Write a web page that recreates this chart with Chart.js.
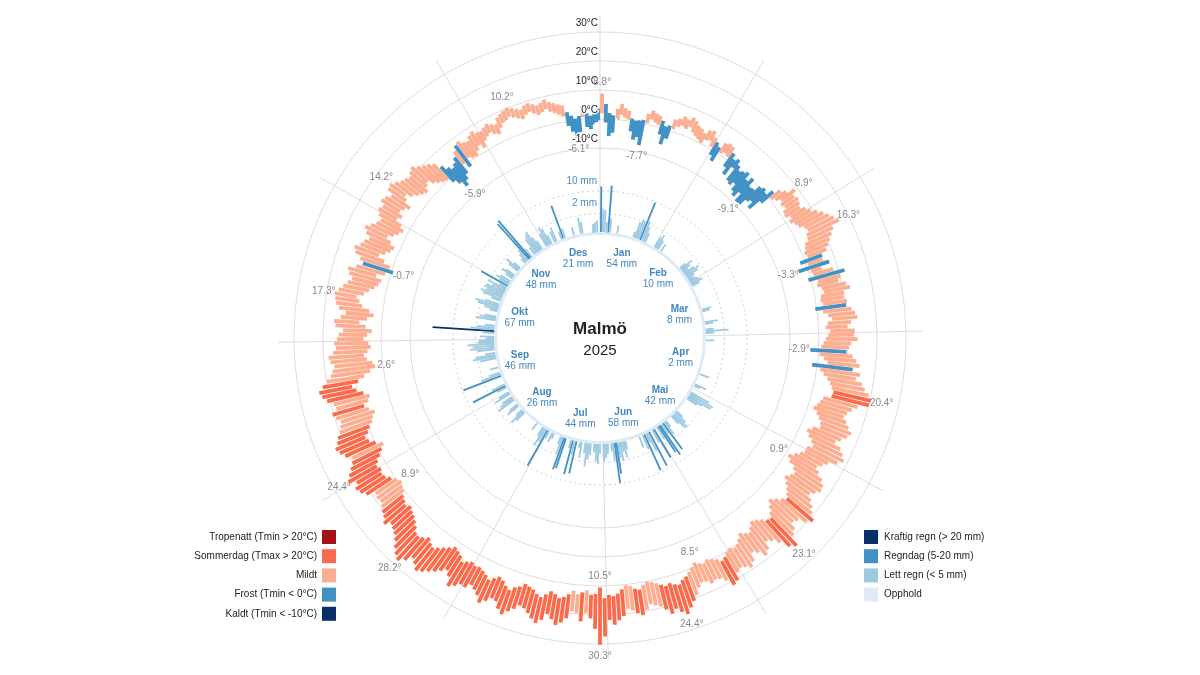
<!DOCTYPE html>
<html>
<head>
<meta charset="utf-8">
<script src="https://cdn.jsdelivr.net/npm/chart.js@4.4.1/dist/chart.umd.min.js"></script>
<style>
  body { margin: 0; background: #fff; }
  canvas { display: block; }
</style>
</head>
<body>
<canvas id="c" width="1200" height="675"></canvas>
<script>
// ---- data ----
var months = ["Jan", "Feb", "Mar", "Apr", "Mai", "Jun", "Jul", "Aug", "Sep", "Okt", "Nov", "Des"];
var monthDays = [31, 28, 31, 30, 31, 30, 31, 31, 30, 31, 30, 31];
var tempTicks = [-10, 0, 10, 20, 30];
var rainTicks = [2, 10];

// daily max temperature, one line per month
var tmax = [
  8.8, 5.2, 2.1, 1.4, 3.8, 5.6, 4.2, 3.5, 1.0, 0.5, 0.8, 1.2, 3.6, 5.1, 4.4, 3.9, 2.5, 0.9, 1.6, 4.2, 5.0, 6.3, 5.8, 7.1, 6.4, 5.2, 4.8, 3.9, 5.5, 6.1, 4.3,
  3.2, 2.1, 4.5, 5.2, 4.8, 3.1, 1.5, 2.4, 0.8, -0.5, 0.2, 1.1, -1.2, 0.6, -2.1, -1.8, 0.4, 1.2, 0.3, 2.6, 4.8, 6.2, 8.9, 7.4, 8.1, 7.6, 6.9, 8.3,
  9.5, 11.2, 12.8, 14.1, 15.2, 16.3, 13.4, 12.1, 10.8, 9.6, 8.4, 6.2, 5.9, 7.8, 4.6, 8.3, 12.0, 10.2, 9.1, 11.4, 12.5, 10.1, 9.7, 10.6, 10.1, 11.8, 12.9, 13.5, 11.2, 9.8, 12.4,
  12.1, 13.4, 11.2, 10.5, 9.6, 11.8, 13.2, 14.5, 12.3, 15.1, 13.8, 16.2, 17.5, 19.2, 20.4, 20.1, 16.4, 14.8, 13.6, 12.9, 14.2, 15.6, 17.1, 16.3, 14.7, 13.2, 15.8, 17.4, 18.6, 16.9,
  14.2, 12.8, 11.5, 13.1, 15.4, 16.8, 17.2, 15.9, 14.6, 16.3, 18.1, 19.4, 21.3, 19.8, 17.2, 16.4, 18.5, 19.6, 23.1, 21.6, 18.4, 16.2, 15.1, 17.6, 18.8, 16.4, 15.2, 17.9, 19.3, 18.1, 17.4,
  18.2, 20.6, 21.4, 18.9, 17.3, 16.8, 17.5, 16.2, 15.8, 17.1, 19.2, 20.8, 22.6, 24.4, 23.1, 21.5, 22.8, 20.9, 19.4, 18.7, 17.9, 19.6, 21.2, 20.3, 19.1, 18.4, 20.7, 22.1, 23.5, 21.8,
  27.4, 30.3, 24.8, 21.2, 19.6, 22.4, 19.8, 19.2, 21.8, 23.5, 24.6, 22.9, 21.4, 23.8, 25.2, 24.1, 22.6, 21.3, 20.8, 22.5, 23.9, 25.6, 24.3, 22.1, 21.7, 23.4, 24.9, 22.8, 21.5, 20.6, 22.3,
  22.1, 23.6, 24.8, 21.9, 20.4, 21.8, 23.2, 24.5, 25.9, 26.8, 25.3, 24.1, 26.4, 28.2, 27.1, 25.6, 23.8, 22.4, 21.6, 20.9, 22.7, 21.3, 20.5, 19.6, 18.8, 19.2, 18.6, 21.4, 22.8, 23.5, 22.1,
  24.4, 23.1, 21.6, 20.2, 19.4, 21.3, 22.6, 23.4, 22.1, 21.2, 19.8, 19.1, 18.4, 19.6, 20.4, 18.6, 19.2, 21.1, 22.4, 23.1, 21.6, 19.8, 18.2, 17.4, 16.6, 17.8, 18.3, 16.7, 15.6, 16.2,
  15.2, 14.6, 13.1, 15.8, 16.4, 14.2, 12.6, 15.1, 16.3, 16.8, 17.3, 16.1, 14.9, 13.6, 12.4, 13.8, 14.6, 12.1, 10.2, 11.6, 13.9, 14.8, 13.2, 12.4, 11.1, 12.9, 14.1, 12.6, 11.2, 10.4, 11.8,
  12.9, 12.1, 13.6, 13.0, 11.6, 13.8, 14.2, 13.1, 11.9, 11.2, 10.4, 11.5, 12.2, 10.8, 9.6, 8.9, 7.6, 5.1, 3.2, 2.0, 2.9, 4.4, 6.1, 7.5, 8.2, 6.8, 6.3, 7.6, 8.4, 7.1,
  6.8, 7.4, 8.1, 7.2, 6.5, 8.4, 9.1, 9.6, 10.2, 9.4, 8.6, 7.9, 8.8, 9.2, 8.4, 7.6, 8.1, 8.9, 7.8, 7.1, 6.4, 5.8, 3.2, 1.8, 0.6, 1.4, 4.8, 2.1, 1.2, 2.4, 3.6
];

// daily min temperature
var tmin = [
  2.0, -1.2, -5.8, -4.6, 0.6, 1.8, 0.9, 0.4, -3.5, -6.2, -5.1, -7.7, 0.3, 1.9, 1.2, 0.6, -2.4, -5.5, -3.1, 0.8, 2.1, 3.0, 2.4, 3.6, 2.2, 1.5, 0.9, 0.2, 1.8, 2.5, 0.7,
  -1.8, -3.4, 0.6, 1.4, 0.8, -2.5, -4.8, -1.1, -5.6, -6.3, -4.9, -7.2, -8.4, -6.1, -9.1, -8.8, -6.3, -5.2, -7.4, -3.0, 0.4, 1.6, 2.8, 1.9, 2.6, 1.2, 0.8, 2.3,
  1.2, 2.4, 3.1, 4.6, 5.2, 4.1, 3.8, 2.2, 1.6, 0.8, 1.4, -1.8, 0.6, -3.3, 0.8, 1.2, -0.9, 2.1, 1.5, 2.8, 3.4, 2.0, 1.6, 2.3, -0.6, 1.9, 3.6, 4.8, 3.2, 2.4, 3.9,
  3.2, 2.4, 1.6, 0.8, -2.9, 0.4, 2.1, 3.4, -1.8, 1.2, 2.6, 4.1, 5.3, 6.2, 7.1, 6.8, 4.2, 3.5, 2.8, 1.9, 3.6, 4.8, 5.9, 6.4, 4.1, 2.7, 3.9, 5.6, 6.8, 5.2,
  5.2, 4.1, 2.6, 0.9, 2.4, 4.8, 6.1, 5.3, 4.2, 5.6, 7.1, 8.2, 9.4, 8.1, 6.5, 5.2, 6.8, 8.4, 10.1, 9.6, 8.2, 7.1, 6.4, 7.8, 9.1, 8.3, 7.2, 8.6, 9.8, 10.4, 9.6,
  10.2, 11.4, 12.1, 10.6, 9.8, 9.2, 10.1, 9.4, 8.5, 9.6, 10.8, 11.9, 12.6, 13.8, 13.2, 12.4, 12.9, 12.1, 11.2, 10.5, 10.1, 10.9, 12.3, 11.8, 10.6, 10.2, 11.5, 12.8, 13.6, 13.1,
  14.2, 10.5, 12.8, 13.1, 11.6, 12.4, 13.2, 12.1, 13.5, 14.6, 15.2, 14.1, 13.4, 14.8, 16.1, 15.4, 14.2, 13.6, 13.1, 14.5, 15.3, 16.8, 15.9, 14.6, 13.8, 14.9, 16.2, 15.1, 14.3, 13.7, 14.1,
  13.4, 14.2, 15.1, 13.6, 12.8, 12.1, 13.4, 14.6, 15.8, 16.9, 16.2, 15.1, 16.4, 17.2, 16.8, 15.3, 14.1, 13.2, 12.6, 11.8, 12.9, 12.1, 11.4, 10.2, 9.6, 8.9, 9.8, 11.2, 12.6, 13.1, 12.4,
  13.2, 12.1, 10.4, 8.9, 7.6, 9.8, 11.6, 12.4, 10.8, 9.6, 8.1, 7.4, 6.2, 7.8, 9.1, 7.2, 6.4, 8.2, 10.4, 11.6, 9.2, 6.8, 4.6, 2.6, 3.4, 5.2, 6.1, 4.8, 3.6, 4.4,
  6.1, 4.8, 3.2, 5.4, 7.6, 5.1, 2.9, 4.6, 7.2, 8.4, 9.6, 7.3, 5.8, 4.2, 3.1, 2.4, 4.6, 1.8, -0.7, 0.9, 3.4, 5.8, 4.1, 2.6, 1.9, 3.8, 5.6, 3.9, 2.7, 1.6, 3.2,
  5.6, 4.4, 6.1, 5.2, 3.8, 6.4, 7.6, 5.6, 4.2, 3.1, 2.4, 3.9, 4.6, 2.8, 1.6, 0.6, 0.2, -1.8, -3.6, -5.9, -4.2, -2.6, 0.6, -1.4, 1.4, 0.4, 0.2, 1.6, 2.9, 1.2,
  3.2, 4.1, 4.8, 3.6, 2.9, 4.6, 5.8, 6.2, 6.9, 6.1, 5.2, 4.4, 5.6, 6.2, 5.1, 4.2, 4.8, 5.6, 4.4, 3.6, 2.8, 1.9, -1.6, -3.8, -6.1, -4.2, 0.8, -2.6, -3.4, -1.2, -0.4
];

// daily precipitation (mm)
var rain = [
  12.2, 3.2, 2.8, 0.6, 13.0, 1.2, 0, 0, 0, 0.4, 0, 0, 0, 0, 0, 0, 0, 0, 0.2, 1.6, 2.4, 2.2, 9.6, 2.6, 1.4, 0.6, 0, 0, 0, 0, 0,
  0.8, 1.4, 0.6, 0, 0.4, 0, 0, 0, 0, 0, 0, 0, 0, 0, 0, 0, 0, 0, 0.3, 1.2, 0.6, 0.2, 0.8, 1.6, 1.1, 0.4, 0.2, 0.4,
  0.6, 0.9, 0.4, 0, 0, 0, 0, 0, 0, 0, 0, 0, 0, 0, 0, 0, 0.5, 0.3, 0, 0, 0, 0, 0, 1.0, 0.4, 0, 0, 0.4, 3.1, 0.4, 0,
  0, 0, 0.4, 0, 0, 0, 0, 0, 0, 0, 0, 0, 0, 0, 0, 0, 0, 0, 0, 0, 0, 0.6, 0, 0, 0, 0, 0, 0.8, 0.2, 0,
  0, 0, 2.6, 4.2, 3.8, 1.6, 0.8, 0, 0, 0, 0, 0, 0, 0, 0, 0.4, 1.2, 2.1, 1.8, 0.6, 0, 0, 0, 0.3, 1.4, 6.2, 0.8, 7.4, 5.6, 1.2, 0,
  6.4, 1.2, 0, 8.6, 2.4, 0.6, 9.2, 1.4, 0, 0.8, 0, 0, 0, 0, 0, 0, 0, 0.4, 1.6, 0.6, 2.2, 1.4, 5.8, 9.6, 1.8, 0.4, 0, 0.6, 1.2, 1.8,
  0, 0.6, 2.4, 1.8, 0.4, 0, 0.8, 1.6, 3.2, 0.6, 0, 1.4, 0.2, 0, 6.4, 1.2, 7.2, 0.4, 0, 0, 5.8, 6.6, 1.8, 0.4, 0, 0, 0, 0.2, 0.6, 0, 0.4,
  9.8, 1.2, 2.4, 0.6, 0, 0, 0, 0.4, 0, 0, 0, 0, 0, 0, 0, 0, 0.8, 1.6, 0.4, 0, 0, 1.2, 0.6, 0, 0, 2.2, 1.4, 0.8, 0, 1.8, 0.8,
  0, 0, 0.6, 7.8, 1.2, 0, 0, 0, 0, 9.6, 2.4, 0.8, 0, 0, 0.4, 0, 0, 0, 0, 1.6, 3.2, 2.4, 0.6, 0, 1.8, 3.6, 2.8, 4.2, 1.6, 1.4,
  0.4, 1.2, 0, 0.8, 22.6, 3.4, 1.8, 0.6, 0, 0, 2.4, 1.6, 0.8, 0, 0, 0.4, 1.2, 2.8, 3.6, 1.4, 0, 0.6, 2.2, 3.1, 1.8, 2.6, 2.3, 1.2, 2.4, 0.4, 5.4,
  0.6, 1.4, 0.8, 0, 0.4, 1.2, 0.6, 0, 0, 0.8, 1.6, 0.4, 0, 0, 0, 0.2, 0.6, 1.2, 13.2, 14.4, 0.6, 0, 0.4, 1.8, 2.6, 3.2, 1.4, 0.6, 0, 0,
  1.2, 2.4, 1.8, 0.6, 0, 0.8, 1.4, 0, 0, 0.4, 7.2, 0.6, 0, 0, 0, 0, 0.4, 0, 0, 0, 1.6, 0.8, 0, 0, 0, 0, 0, 0.4, 0.6, 0.8, 0
];

var tempCats = [
  { label: "Tropenatt (Tmin > 20°C)", color: "#a50f15" },
  { label: "Sommerdag (Tmax > 20°C)", color: "#fb6a4a" },
  { label: "Mildt", color: "#fcae91" },
  { label: "Frost (Tmin < 0°C)", color: "#4292c6" },
  { label: "Kaldt (Tmin < -10°C)", color: "#08306b" }
];
var rainCats = [
  { label: "Kraftig regn (> 20 mm)", color: "#08306b" },
  { label: "Regndag (5-20 mm)", color: "#4292c6" },
  { label: "Lett regn (< 5 mm)", color: "#9ecae1" },
  { label: "Opphold", color: "#deebf7" }
];

// ---- radial mapping (units = px of the chart scales) ----
var R_T0 = 219, R_TK = 2.9;     // radius of 0°C, px per °C
var R_P0 = 106, R_PK = 13;      // rain base radius, px per sqrt(mm)
var NDAYS = tmax.length;

function tempR(t) { return R_T0 + R_TK * t; }
function rainR(mm) { return R_P0 + R_PK * Math.sqrt(mm); }
function angleOf(d) { return d / NDAYS * 2 * Math.PI; }   // clockwise from top
function polar(d, r) {
  var a = angleOf(d);
  return { x: r * Math.sin(a), y: r * Math.cos(a) };
}

function tempClass(i) {
  if (tmin[i] > 20) return 0;
  if (tmax[i] > 20) return 1;
  if (tmin[i] < -10) return 4;
  if (tmin[i] < 0) return 3;
  return 2;
}
function rainClass(i) {
  if (rain[i] > 20) return 0;
  if (rain[i] >= 5) return 1;
  if (rain[i] > 0) return 2;
  return 3;
}

// bars as line segments separated by gaps
function segments(test, r0, r1) {
  var pts = [];
  for (var i = 0; i < NDAYS; i++) {
    if (!test(i)) continue;
    pts.push(polar(i + 0.5, r0(i)), polar(i + 0.5, r1(i)), { x: null, y: null });
  }
  return pts;
}

var datasets = [];
[2, 1, 0].forEach(function (k) {
  datasets.push({
    data: segments(function (i) { return rainClass(i) === k; },
      function () { return R_P0; }, function (i) { return rainR(rain[i]); }),
    borderColor: rainCats[k].color, borderWidth: 1.8
  });
});
[2, 3, 4, 1, 0].forEach(function (k) {
  datasets.push({
    data: segments(function (i) { return tempClass(i) === k; },
      function (i) { return tempR(tmin[i]); }, function (i) { return tempR(tmax[i]); }),
    borderColor: tempCats[k].color, borderWidth: 3.8
  });
});
datasets.forEach(function (ds) {
  ds.showLine = true;
  ds.spanGaps = false;
  ds.pointRadius = 0;
  ds.borderCapStyle = "butt";
  ds.fill = false;
});

var FONT = "'Liberation Sans', Arial, sans-serif";

function pix(chart, p) {
  return { x: chart.scales.x.getPixelForValue(p.x), y: chart.scales.y.getPixelForValue(p.y) };
}
function radPx(chart, r) {
  return chart.scales.x.getPixelForValue(r) - chart.scales.x.getPixelForValue(0);
}

var gridPlugin = {
  id: "grid",
  beforeDatasetsDraw: function (chart) {
    var ctx = chart.ctx;
    var c = pix(chart, { x: 0, y: 0 });
    ctx.save();
    ctx.strokeStyle = "#dcdcdc";
    ctx.lineWidth = 1;
    tempTicks.forEach(function (t) {
      ctx.beginPath();
      ctx.arc(c.x, c.y, radPx(chart, tempR(t)), 0, 2 * Math.PI);
      ctx.stroke();
    });
    // month spokes
    var d = 0;
    monthDays.forEach(function (n) {
      var a = pix(chart, polar(d, R_P0)), b = pix(chart, polar(d, 322));
      ctx.beginPath();
      ctx.moveTo(a.x, a.y);
      ctx.lineTo(b.x, b.y);
      ctx.stroke();
      d += n;
    });
    // rain reference circles
    ctx.strokeStyle = "#cccccc";
    ctx.setLineDash([2, 3]);
    rainTicks.forEach(function (mm) {
      ctx.beginPath();
      ctx.arc(c.x, c.y, radPx(chart, rainR(mm)), 0, 2 * Math.PI);
      ctx.stroke();
    });
    ctx.setLineDash([]);
    ctx.strokeStyle = "#deebf7";
    ctx.lineWidth = 3;
    ctx.beginPath();
    ctx.arc(c.x, c.y, radPx(chart, R_P0 - 1.5), 0, 2 * Math.PI);
    ctx.stroke();
    ctx.restore();
  }
};

var labelPlugin = {
  id: "labels",
  afterDatasetsDraw: function (chart) {
    var ctx = chart.ctx;
    var c = pix(chart, { x: 0, y: 0 });
    ctx.save();
    ctx.textBaseline = "middle";

    // temperature axis labels
    ctx.font = "10px " + FONT;
    ctx.textAlign = "right";
    ctx.lineJoin = "round";
    tempTicks.forEach(function (t) {
      var y = c.y - radPx(chart, tempR(t)) - 9;
      ctx.strokeStyle = "rgba(255,255,255,0.9)";
      ctx.lineWidth = 3;
      ctx.strokeText(t + "°C", c.x - 2, y);
      ctx.fillStyle = "#222";
      ctx.fillText(t + "°C", c.x - 2, y);
    });

    // rain axis labels
    ctx.fillStyle = "#4a8fc7";
    rainTicks.forEach(function (mm) {
      ctx.fillText(mm + " mm", c.x - 3, c.y - radPx(chart, rainR(mm)) - 10);
    });

    // month names and totals
    ctx.textAlign = "center";
    var start = 0;
    months.forEach(function (m, k) {
      var sum = 0;
      for (var i = start; i < start + monthDays[k]; i++) sum += rain[i];
      var p = pix(chart, polar(start + monthDays[k] / 2, 83));
      ctx.fillStyle = "#3f87c2";
      ctx.font = "bold 10px " + FONT;
      ctx.fillText(m, p.x, p.y - 5);
      ctx.font = "10px " + FONT;
      ctx.fillText(Math.round(sum) + " mm", p.x, p.y + 6);

      // monthly extremes
      var iMax = start, iMin = start;
      for (var j = start; j < start + monthDays[k]; j++) {
        if (tmax[j] > tmax[iMax]) iMax = j;
        if (tmin[j] < tmin[iMin]) iMin = j;
      }
      ctx.fillStyle = "#888";
      var pm = pix(chart, polar(iMax + 0.5, tempR(tmax[iMax]) + 11));
      ctx.fillText(tmax[iMax].toFixed(1) + "°", pm.x, pm.y);
      var pn = pix(chart, polar(iMin + 0.5, tempR(tmin[iMin]) - 11));
      ctx.fillText(tmin[iMin].toFixed(1) + "°", pn.x, pn.y);
      start += monthDays[k];
    });

    // centre title
    ctx.fillStyle = "#222";
    ctx.font = "bold 17px " + FONT;
    ctx.fillText("Malmö", c.x, c.y - 9);
    ctx.font = "15px " + FONT;
    ctx.fillText("2025", c.x, c.y + 13);

    // legends
    ctx.font = "10px " + FONT;
    ctx.textAlign = "right";
    tempCats.forEach(function (cat, k) {
      var y = 537 + k * 19.2;
      ctx.fillStyle = cat.color;
      ctx.fillRect(322, y - 7, 14, 14);
      ctx.fillStyle = "#222";
      ctx.fillText(cat.label, 317, y);
    });
    ctx.textAlign = "left";
    rainCats.forEach(function (cat, k) {
      var y = 537 + k * 19.2;
      ctx.fillStyle = cat.color;
      ctx.fillRect(864, y - 7, 14, 14);
      ctx.fillStyle = "#222";
      ctx.fillText(cat.label, 884, y);
    });
    ctx.restore();
  }
};

new Chart(document.getElementById("c"), {
  type: "scatter",
  data: { datasets: datasets },
  options: {
    responsive: false,
    animation: false,
    events: [],
    layout: { padding: 0 },
    scales: {
      x: { type: "linear", min: -600, max: 600, display: false },
      y: { type: "linear", min: -337, max: 338, display: false }
    },
    plugins: {
      legend: { display: false },
      tooltip: { enabled: false }
    }
  },
  plugins: [gridPlugin, labelPlugin]
});
</script>
</body>
</html>
